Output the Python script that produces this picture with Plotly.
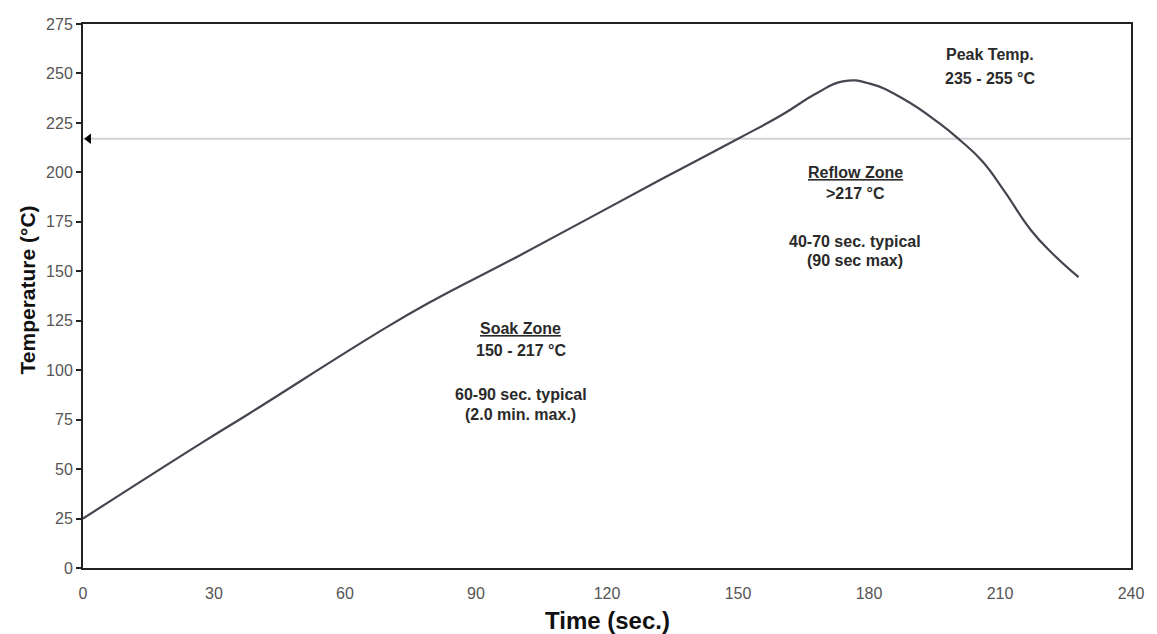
import plotly.graph_objects as go

# Reflow profile
time_s = [0, 27, 38, 69, 80, 100, 132, 150, 160, 168, 174, 180, 188, 196, 201, 206, 211, 217, 222, 228]
temp_c = [25, 63, 78, 121, 135, 158, 196, 217, 229, 240, 246, 245, 237, 225, 216, 205.5, 190.5, 171, 159, 147]

liquidus = 217
x_ticks = [0, 30, 60, 90, 120, 150, 180, 210, 240]
y_ticks = [0, 25, 50, 75, 100, 125, 150, 175, 200, 225, 250, 275]

FONT = "Arial, Liberation Sans, sans-serif"
TXT = "#2a2a2a"

fig = go.Figure()

fig.add_trace(go.Scatter(x=[0, 240], y=[liquidus, liquidus], mode="lines",
                         line=dict(color="#d2d2d2", width=2), hoverinfo="skip"))
fig.add_trace(go.Scatter(x=time_s, y=temp_c, mode="lines",
                         line=dict(color="#454550", width=2.2, shape="spline", smoothing=1.3)))
fig.add_trace(go.Scatter(x=[1.3], y=[liquidus], mode="markers",
                         marker=dict(symbol="triangle-left", size=9, color="black")))

labels = [
    (207.6, 259.4, "<b>Peak Temp.</b>"),
    (207.6, 247.7, "<b>235 - 255 °C</b>"),
    (176.8, 200.0, "<b><u>Reflow Zone</u></b>"),
    (176.8, 189.1, "<b>&gt;217 °C</b>"),
    (176.8, 165.3, "<b>40-70 sec. typical</b>"),
    (176.8, 155.7, "<b>(90 sec max)</b>"),
    (100.3, 121.1, "<b><u>Soak Zone</u></b>"),
    (100.3, 109.7, "<b>150 - 217 °C</b>"),
    (100.3, 87.5, "<b>60-90 sec. typical</b>"),
    (100.3, 77.4, "<b>(2.0 min. max.)</b>"),
]
for x, y, t in labels:
    fig.add_annotation(x=x, y=y, text=t, showarrow=False, xanchor="center", yanchor="middle",
                       font=dict(family=FONT, size=16, color=TXT))

fig.add_annotation(xref="paper", yref="paper", x=0.5, y=-0.097, text="<b>Time (sec.)</b>",
                   showarrow=False, xanchor="center", yanchor="middle",
                   font=dict(family=FONT, size=24, color="#111"))
fig.add_annotation(xref="paper", yref="paper", x=-0.053, y=0.511, text="<b>Temperature (°C)</b>",
                   showarrow=False, xanchor="center", yanchor="middle", textangle=-90,
                   font=dict(family=FONT, size=21, color="#111"))

fig.update_layout(
    width=1157, height=634,
    margin=dict(l=83, r=26, t=24, b=66),
    paper_bgcolor="white", plot_bgcolor="white",
    showlegend=False,
    font=dict(family=FONT, color="#555"),
    xaxis=dict(range=[0, 240], tickvals=x_ticks, showgrid=False, zeroline=False,
               showline=True, linecolor="#222", linewidth=2, mirror=True,
               ticks="outside", ticklen=10, tickcolor="rgba(0,0,0,0)",
               tickfont=dict(family=FONT, size=16, color="#555")),
    yaxis=dict(range=[0, 275], tickvals=y_ticks, showgrid=False, zeroline=False,
               showline=True, linecolor="#222", linewidth=2, mirror=True,
               ticks="outside", ticklen=5, tickcolor="#222", tickwidth=2,
               tickfont=dict(family=FONT, size=16, color="#555")),
)

fig.write_html("out.html")
